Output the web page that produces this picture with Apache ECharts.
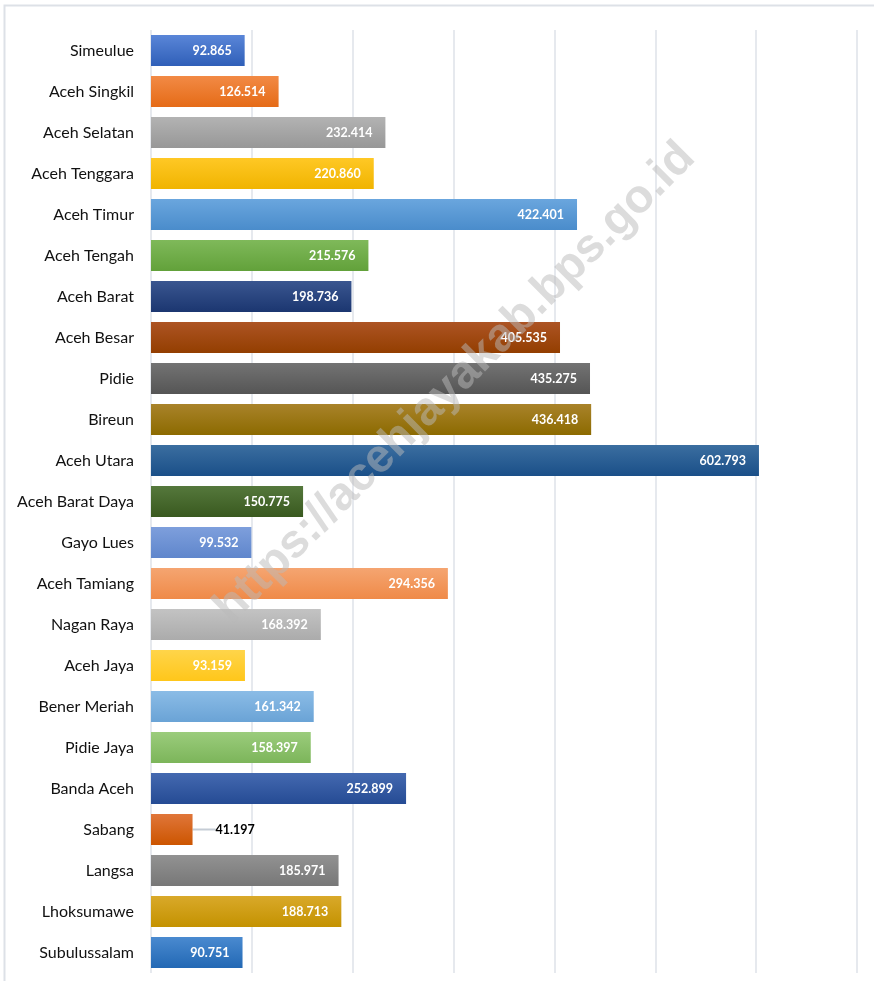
<!DOCTYPE html>
<html>
<head>
<meta charset="utf-8">
<script src="https://cdn.jsdelivr.net/npm/echarts@6/dist/echarts.min.js"></script>
<style>
  html, body { margin: 0; padding: 0; background: #fff; }
  #chart { width: 874px; height: 981px; }
</style>
</head>
<body>
<div id="chart"></div>
<script>
const categories = ['Simeulue', 'Aceh Singkil', 'Aceh Selatan', 'Aceh Tenggara', 'Aceh Timur', 'Aceh Tengah',
  'Aceh Barat', 'Aceh Besar', 'Pidie', 'Bireun', 'Aceh Utara', 'Aceh Barat Daya', 'Gayo Lues',
  'Aceh Tamiang', 'Nagan Raya', 'Aceh Jaya', 'Bener Meriah', 'Pidie Jaya', 'Banda Aceh', 'Sabang',
  'Langsa', 'Lhoksumawe', 'Subulussalam'];

const values = [92.865, 126.514, 232.414, 220.860, 422.401, 215.576, 198.736, 405.535, 435.275, 436.418,
  602.793, 150.775, 99.532, 294.356, 168.392, 93.159, 161.342, 158.397, 252.899, 41.197,
  185.971, 188.713, 90.751];

// top / bottom of each bar's gradient
const topColors = ['#5a86d8', '#f28a45', '#b3b3b3', '#ffc825', '#6aa6de', '#7fb95a', '#3a5690', '#ad5424',
  '#737373', '#a9832a', '#3b6ea0', '#55783c', '#7e9fdc', '#f5a571', '#c3c3c3', '#ffd54a',
  '#8bbce6', '#9bcc7c', '#4469b0', '#e0763a', '#929292', '#d9a92a', '#4a8ad0'];
const bottomColors = ['#2f5fb8', '#e56b17', '#979797', '#f0b400', '#4a8ccb', '#62a13a', '#1b3670', '#933e00',
  '#555555', '#8c6a00', '#1a4f88', '#39591f', '#5f86cc', '#ef8a48', '#ababab', '#ffc61a',
  '#6aa3d6', '#7cb55a', '#254b94', '#cc5500', '#777777', '#c49200', '#2268b4'];

const outsideLabel = ['Sabang'];

const chart = echarts.init(document.getElementById('chart'));

const data = values.map((v, i) => {
  const outside = outsideLabel.includes(categories[i]);
  return {
    value: v,
    itemStyle: {
      color: new echarts.graphic.LinearGradient(0, 0, 0, 1, [
        { offset: 0, color: topColors[i] },
        { offset: 1, color: bottomColors[i] }
      ])
    },
    label: outside ? {
      position: 'right',
      distance: 6,
      color: '#000'
    } : {}
  };
});

chart.setOption({
  animation: false,
  graphic: [
    {
      type: 'rect',
      shape: { x: 4.5, y: 5.5, width: 900, height: 1000 },
      style: { fill: 'none', stroke: '#dde1e7', lineWidth: 2 },
      silent: true,
      z: 0
    },
    {
      type: 'text',
      x: 455,
      y: 383,
      rotation: Math.PI / 4,
      style: {
        text: 'https://acehjayakab.bps.go.id',
        font: 'bold 47px "Liberation Sans", Arial, sans-serif',
        fill: 'rgba(185,185,185,0.5)',
        align: 'center',
        verticalAlign: 'middle'
      },
      silent: true,
      z: 100
    }
  ],
  grid: { left: 151, right: 17, top: 30, bottom: 8, containLabel: false },
  xAxis: {
    type: 'value',
    min: 0,
    max: 700,
    interval: 100,
    axisLabel: { show: false },
    axisLine: { show: false },
    axisTick: { show: false },
    splitLine: { show: true, lineStyle: { color: '#e6e9ee', width: 2 } }
  },
  yAxis: {
    type: 'category',
    data: categories,
    inverse: true,
    axisLine: { show: false },
    axisTick: { show: false },
    axisLabel: {
      margin: 17,
      color: '#111',
      fontSize: 16,
      fontFamily: 'Lato, "Open Sans", sans-serif'
    }
  },
  series: [{
    type: 'bar',
    data: data,
    barCategoryGap: '24%',
    label: {
      show: true,
      position: 'insideRight',
      distance: 13,
      color: '#fff',
      fontWeight: 'bold',
      fontSize: 12.5,
      fontFamily: 'Lato, "Open Sans", sans-serif',
      formatter: p => p.value.toFixed(3)
    },
    labelLine: {
      show: true,
      lineStyle: { color: '#c5ccd5', width: 2 }
    },
    labelLayout: p => outsideLabel.includes(categories[p.dataIndex]) ? { dx: 17 } : {}
  }]
});
</script>
</body>
</html>
